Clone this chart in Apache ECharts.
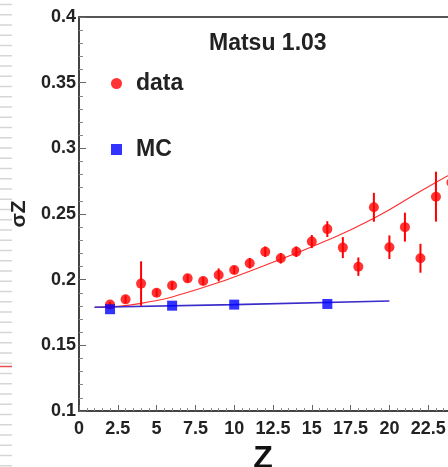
<!DOCTYPE html>
<html>
<head>
<meta charset="utf-8">
<script src="https://cdn.jsdelivr.net/npm/echarts@6/dist/echarts.min.js"></script>
<style>
  html, body { margin: 0; padding: 0; background: #fff; }
  #chart { width: 448px; height: 467px; }
</style>
</head>
<body>
<div id="chart"></div>
<script>
// measured points (Z, sigma_Z)
var dataZ   = [2, 3, 4, 5, 6, 7, 8, 9, 10, 11, 12, 13, 14, 15, 16, 17, 18, 19, 20, 21, 22, 23, 24];
var dataVal = [0.181, 0.185, 0.197, 0.190, 0.1955, 0.201, 0.199, 0.2036, 0.2074, 0.2125, 0.2213, 0.2163,
               0.2213, 0.229, 0.2385, 0.2244, 0.2099, 0.2551, 0.2247, 0.240, 0.2163, 0.2632, 0.274];
var dataErr = [0.002, 0.003, 0.017, 0.003, 0.003, 0.003, 0.003, 0.005, 0.003, 0.004, 0.004, 0.004,
               0.004, 0.005, 0.006, 0.008, 0.007, 0.011, 0.009, 0.011, 0.011, 0.019, 0.010];

// MC points
var mcZ   = [2, 6, 10, 16];
var mcVal = [0.1775, 0.1802, 0.181, 0.1815];

// fit curves
var fitDataZ   = [1, 4, 8, 12, 16, 19, 22, 24.5];
var fitDataVal = [0.179, 0.182, 0.194, 0.211, 0.230, 0.2467, 0.2674, 0.284];
var fitMcZ   = [1, 10, 20];
var fitMcVal = [0.179, 0.181, 0.1838];

var xTicks = [0, 2.5, 5, 7.5, 10, 12.5, 15, 17.5, 20, 22.5, 25];
var yTicks = [0.1, 0.15, 0.2, 0.25, 0.3, 0.35, 0.4];

var chart = echarts.init(document.getElementById('chart'));

function zip(a, b) {
  return a.map(function (v, i) { return [v, b[i]]; });
}

var FONT = '"Liberation Sans", Arial, sans-serif';

// slide decoration on the left edge
var deco = [];
for (var i = 0; i < 46; i++) {
  deco.push({
    type: 'line', silent: true,
    shape: { x1: 0, y1: 4.5 + i * 10.25, x2: 12, y2: 4.5 + i * 10.25 },
    style: { stroke: '#d6d6d6', lineWidth: 1.5 }
  });
}
deco.push({
  type: 'line', silent: true,
  shape: { x1: 0, y1: 366.5, x2: 12, y2: 366.5 },
  style: { stroke: '#e85050', lineWidth: 1.5 }
});
deco.push({
  type: 'text', left: 209, top: 32,
  style: { text: 'Matsu 1.03', font: 'bold 23px ' + FONT, fill: '#222' }
});
deco.push({
  type: 'text', x: 19, y: 214, rotation: Math.PI / 2,
  style: { text: 'σZ', font: 'bold 21px ' + FONT, fill: '#222',
           align: 'center', verticalAlign: 'middle' }
});

var labelFont = { fontFamily: FONT, fontWeight: 'bold', fontSize: 18, color: '#222' };
var legendText = { fontFamily: FONT, fontWeight: 'bold', fontSize: 23, color: '#222', padding: [0, 0, 0, 9] };

var option = {
  backgroundColor: '#fff',
  animation: false,
  graphic: deco,
  grid: {
    left: 79, top: 17, width: 388, height: 394,
    outerBoundsMode: 'none', containLabel: false,
    show: false
  },
  legend: [{
    left: 106, top: 67, itemWidth: 11, itemHeight: 11,
    data: [{ name: 'data', icon: 'circle' }],
    textStyle: legendText
  }, {
    left: 106, top: 133, itemWidth: 11, itemHeight: 11,
    data: [{ name: 'MC', icon: 'rect' }],
    textStyle: legendText
  }],
  xAxis: [{
    type: 'value', min: xTicks[0], max: xTicks[xTicks.length - 1], interval: 2.5,
    name: 'Z', nameLocation: 'middle', nameGap: 29,
    nameTextStyle: { fontFamily: FONT, fontWeight: 'bold', fontSize: 32, color: '#111', padding: [0, 20, 0, 0] },
    axisLine: { lineStyle: { color: '#444', width: 2 } },
    axisTick: { inside: true, length: 6, lineStyle: { color: '#666' } },
    minorTick: { show: true, splitNumber: 5, length: 3, lineStyle: { color: '#888' } },
    splitLine: { show: false },
    axisLabel: Object.assign({ margin: 9, formatter: function (v) { return String(+v.toFixed(1)); } }, labelFont)
  }, {
    // top frame line only
    type: 'value', position: 'top', min: xTicks[0], max: xTicks[xTicks.length - 1],
    axisLine: { show: true, lineStyle: { color: '#555', width: 2 } },
    axisTick: { show: false }, axisLabel: { show: false }, splitLine: { show: false }
  }],
  yAxis: {
    type: 'value', min: yTicks[0], max: yTicks[yTicks.length - 1], interval: 0.05,
    axisLine: { lineStyle: { color: '#444', width: 2 } },
    axisTick: { inside: true, length: 7, lineStyle: { color: '#666' } },
    minorTick: { show: true, splitNumber: 5, length: 4, lineStyle: { color: '#888' } },
    splitLine: { show: false },
    axisLabel: Object.assign({ margin: 3, formatter: function (v) { return String(+v.toFixed(2)); } }, labelFont)
  },
  series: [{
    name: 'fit data', type: 'line', smooth: true, showSymbol: false, silent: true,
    data: zip(fitDataZ, fitDataVal),
    lineStyle: { color: '#ff3030', width: 1.2 }, z: 1
  }, {
    name: 'fit MC', type: 'line', smooth: true, showSymbol: false, silent: true,
    data: zip(fitMcZ, fitMcVal),
    lineStyle: { color: '#3a2cc8', width: 1.6 }, z: 1
  }, {
    name: 'err', type: 'custom', silent: true,
    data: dataZ.map(function (z, i) { return [z, dataVal[i] - dataErr[i], dataVal[i] + dataErr[i]]; }),
    renderItem: function (params, api) {
      var lo = api.coord([api.value(0), api.value(1)]);
      var hi = api.coord([api.value(0), api.value(2)]);
      return {
        type: 'line',
        shape: { x1: lo[0], y1: lo[1], x2: hi[0], y2: hi[1] },
        style: { stroke: '#ff0000', lineWidth: 2 }
      };
    },
    z: 2
  }, {
    name: 'data', type: 'scatter', symbol: 'circle', symbolSize: 10,
    data: zip(dataZ, dataVal),
    itemStyle: { color: '#ff0000' }, z: 3
  }, {
    name: 'MC', type: 'scatter', symbol: 'rect', symbolSize: 10,
    data: zip(mcZ, mcVal),
    itemStyle: { color: '#0000ff' }, z: 3
  }]
};

chart.setOption(option);
</script>
</body>
</html>
